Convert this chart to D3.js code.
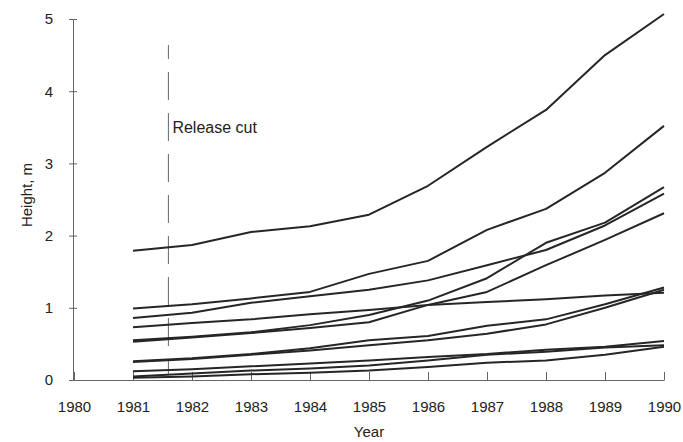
<!DOCTYPE html>
<html>
<head>
<meta charset="utf-8">
<script src="https://cdn.jsdelivr.net/npm/d3@7"></script>
<style>
  html, body { margin: 0; padding: 0; background: #fff; }
  svg { display: block; font-family: "Liberation Sans", Arial, sans-serif; }
</style>
</head>
<body>
<div id="chart"></div>
<script>
// tree heights, one array per tree
const years = [1981, 1982, 1983, 1984, 1985, 1986, 1987, 1988, 1989, 1990];

const treeA = [1.79, 1.87, 2.05, 2.13, 2.29, 2.69, 3.23, 3.74, 4.50, 5.07];
const treeB = [0.99, 1.05, 1.13, 1.22, 1.47, 1.65, 2.08, 2.37, 2.87, 3.52];
const treeC = [0.86, 0.93, 1.07, 1.16, 1.25, 1.38, 1.59, 1.80, 2.14, 2.58];
const treeD = [0.55, 0.60, 0.66, 0.76, 0.90, 1.10, 1.41, 1.90, 2.18, 2.67];
const treeE = [0.73, 0.79, 0.84, 0.91, 0.97, 1.04, 1.08, 1.12, 1.17, 1.21];
const treeF = [0.53, 0.59, 0.65, 0.72, 0.80, 1.04, 1.22, 1.59, 1.94, 2.31];
const treeG = [0.26, 0.30, 0.36, 0.44, 0.55, 0.61, 0.75, 0.84, 1.05, 1.28];
const treeH = [0.25, 0.29, 0.35, 0.41, 0.48, 0.55, 0.64, 0.77, 1.00, 1.25];
const treeI = [0.12, 0.15, 0.19, 0.23, 0.27, 0.32, 0.36, 0.42, 0.46, 0.54];
const treeJ = [0.05, 0.09, 0.13, 0.16, 0.20, 0.27, 0.35, 0.39, 0.45, 0.48];
const treeK = [0.03, 0.05, 0.08, 0.10, 0.13, 0.18, 0.24, 0.27, 0.35, 0.46];

const series = [treeA, treeB, treeC, treeD, treeE, treeF, treeG, treeH, treeI, treeJ, treeK];

const xTicks = [1980, 1981, 1982, 1983, 1984, 1985, 1986, 1987, 1988, 1989, 1990];
const yTicks = [0, 1, 2, 3, 4, 5];
const releaseCutYear = 1981.6;
const releaseLabel = "Release cut";

const width = 683, height = 442;

const x = d3.scaleLinear().domain([1980, 1990]).range([74, 664]);
const y = d3.scaleLinear().domain([0, 5]).range([380, 19]);

const svg = d3.select("#chart").append("svg")
    .attr("width", width)
    .attr("height", height);

// axes
const xAxis = svg.append("g")
    .attr("transform", `translate(0,${y(0)})`)
    .call(d3.axisBottom(x).tickValues(xTicks).tickFormat(d3.format("d"))
        .tickSizeInner(-8).tickSizeOuter(0).tickPadding(21));

const yAxis = svg.append("g")
    .attr("transform", `translate(${x(1980) - 1},0)`)
    .call(d3.axisLeft(y).tickValues(yTicks).tickFormat(d3.format("d"))
        .tickSizeInner(4).tickSizeOuter(0).tickPadding(16));

yAxis.selectAll(".tick line").attr("x1", 4);

svg.selectAll(".domain, .tick line")
    .attr("stroke", "#666")
    .attr("stroke-width", 1);

svg.selectAll(".tick text")
    .attr("fill", "#222")
    .style("font-size", "15px");

// release cut marker
svg.append("line")
    .attr("x1", x(releaseCutYear)).attr("x2", x(releaseCutYear))
    .attr("y1", 45).attr("y2", y(0) - 6)
    .attr("stroke", "#666")
    .attr("stroke-width", 1)
    .attr("stroke-dasharray", "28,13")
    .attr("stroke-dashoffset", 14);

svg.append("text")
    .attr("x", x(releaseCutYear) + 4)
    .attr("y", 133)
    .attr("fill", "#222")
    .style("font-size", "16px")
    .text(releaseLabel);

// height lines
const line = d3.line()
    .x((d, i) => x(years[i]))
    .y(d => y(d));

svg.append("g")
    .attr("fill", "none")
    .attr("stroke", "#262626")
    .attr("stroke-width", 2)
    .attr("stroke-linejoin", "round")
    .selectAll("path")
    .data(series)
    .join("path")
    .attr("d", line);

// axis titles
svg.append("text")
    .attr("x", (x(1980) + x(1990)) / 2)
    .attr("y", 437)
    .attr("text-anchor", "middle")
    .attr("fill", "#222")
    .style("font-size", "15px")
    .text("Year");

svg.append("text")
    .attr("transform", "translate(32,195) rotate(-90)")
    .attr("text-anchor", "middle")
    .attr("fill", "#222")
    .style("font-size", "15px")
    .text("Height, m");
</script>
</body>
</html>
